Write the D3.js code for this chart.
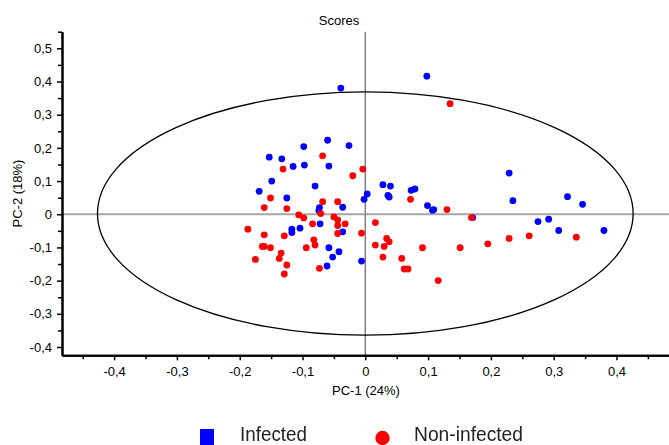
<!DOCTYPE html>
<html>
<head>
<meta charset="utf-8">
<script src="https://cdn.jsdelivr.net/npm/d3@7"></script>
<style>
  html, body { margin: 0; padding: 0; background: #fff; }
  svg { display: block; font-family: "Liberation Sans", Arial, sans-serif; }
</style>
</head>
<body>
<svg id="chart" width="669" height="445"></svg>
<script>
// PCA scores: PC-1 (x) and PC-2 (y) per sample
const infectedPC1 = [-0.039, 0.098, -0.060, -0.098, -0.026, -0.153, -0.133, -0.115, -0.097, -0.058,
  -0.149, -0.080, -0.169, -0.125, 0.028, 0.040, 0.229, 0.073, 0.079, 0.036,
  0.038, 0.003, -0.002, 0.322, 0.235, 0.346, 0.099, 0.107, 0.109, 0.171,
  0.275, 0.292, 0.308, 0.380, -0.073, -0.074, -0.036, -0.072, -0.117, -0.117,
  -0.104, -0.036, -0.058, -0.042, -0.052, -0.061, -0.006];
const infectedPC2 = [0.380, 0.416, 0.223, 0.204, 0.207, 0.172, 0.167, 0.144, 0.148, 0.145,
  0.100, 0.085, 0.069, 0.049, 0.089, 0.085, 0.124, 0.072, 0.076, 0.057,
  0.052, 0.061, 0.045, 0.053, 0.041, 0.030, 0.026, 0.012, 0.014, -0.010,
  -0.022, -0.015, -0.049, -0.049, 0.020, 0.011, 0.021, -0.029, -0.045, -0.055,
  -0.042, -0.053, -0.101, -0.113, -0.129, -0.156, -0.141];

const nonInfectedPC1 = [0.135, -0.068, -0.131, -0.004, -0.020, -0.151, -0.068, -0.044, 0.072, -0.161,
  -0.125, -0.106, -0.098, -0.071, -0.050, -0.044, 0.130, 0.169, -0.187, -0.161,
  -0.129, -0.084, -0.044, -0.032, -0.044, -0.006, 0.016, -0.164, -0.161, -0.151,
  -0.094, -0.134, -0.137, -0.175, -0.125, -0.129, -0.082, -0.080, -0.073, 0.016,
  0.030, 0.034, 0.038, 0.028, 0.058, 0.062, 0.068, 0.116, 0.091, 0.151,
  0.195, 0.229, 0.261, 0.336];
const nonInfectedPC2 = [0.333, 0.176, 0.136, 0.136, 0.116, 0.049, 0.038, 0.038, 0.045, 0.020,
  0.017, -0.002, -0.011, 0.002, -0.008, -0.017, 0.014, -0.010, -0.045, -0.062,
  -0.065, -0.029, -0.034, -0.029, -0.058, -0.057, -0.025, -0.097, -0.097, -0.101,
  -0.101, -0.117, -0.133, -0.136, -0.153, -0.180, -0.077, -0.093, -0.163, -0.093,
  -0.097, -0.073, -0.083, -0.129, -0.133, -0.165, -0.165, -0.200, -0.101, -0.101,
  -0.089, -0.073, -0.065, -0.069];

const xMajorTicks = [-0.4, -0.3, -0.2, -0.1, 0, 0.1, 0.2, 0.3, 0.4];
const xMinorTicks = [-0.45, -0.35, -0.25, -0.15, -0.05, 0.05, 0.15, 0.25, 0.35, 0.45];
const yMajorTicks = [-0.4, -0.3, -0.2, -0.1, 0, 0.1, 0.2, 0.3, 0.4, 0.5];
const yMinorTicks = [-0.35, -0.25, -0.15, -0.05, 0.05, 0.15, 0.25, 0.35, 0.45, 0.55];

// Confidence ellipse (centre and semi-axes in score units)
const ellipseCenter = [0, 0.002];
const ellipseRadii = [0.4265, 0.3665];

const seriesNames = ["Infected", "Non-infected"];
const seriesColors = ["#0000ff", "#ff0000"];

const svg = d3.select("#chart");
const plotLeft = 62, plotRight = 669, plotTop = 31.7, plotBottom = 355.3;

const x = d3.scaleLinear().domain([-0.483, 0.4836]).range([plotLeft, plotRight]);
const y = d3.scaleLinear().domain([-0.425, 0.55]).range([plotBottom, plotTop]);

const fmt = v => (Math.abs(v) < 1e-9 ? "0" : d3.format(".1f")(v).replace(".", ",").replace("−", "-"));

// zero reference lines
svg.append("line")
  .attr("x1", plotLeft).attr("x2", plotRight)
  .attr("y1", y(0)).attr("y2", y(0))
  .attr("stroke", "#a6a6a6").attr("stroke-width", 2);
svg.append("line")
  .attr("x1", x(0)).attr("x2", x(0))
  .attr("y1", plotTop).attr("y2", plotBottom)
  .attr("stroke", "#7f7f7f").attr("stroke-width", 1.5);

// ellipse
svg.append("ellipse")
  .attr("cx", x(ellipseCenter[0])).attr("cy", y(ellipseCenter[1]))
  .attr("rx", x(ellipseRadii[0]) - x(0))
  .attr("ry", y(0) - y(ellipseRadii[1]))
  .attr("fill", "none").attr("stroke", "#000").attr("stroke-width", 1.3);

// points
const infected = infectedPC1.map((v, i) => ({ x: v, y: infectedPC2[i] }));
const nonInfected = nonInfectedPC1.map((v, i) => ({ x: v, y: nonInfectedPC2[i] }));

svg.append("g").selectAll("circle").data(infected).join("circle")
  .attr("cx", d => x(d.x)).attr("cy", d => y(d.y)).attr("r", 3.4)
  .attr("fill", seriesColors[0]);
svg.append("g").selectAll("circle").data(nonInfected).join("circle")
  .attr("cx", d => x(d.x)).attr("cy", d => y(d.y)).attr("r", 3.4)
  .attr("fill", seriesColors[1]);

// axes
function styleAxis(g) {
  g.select(".domain").attr("stroke", "#000").attr("stroke-width", 2);
  g.selectAll(".tick line").attr("stroke", "#000").attr("stroke-width", 1.5);
  g.selectAll(".tick text").attr("fill", "#000").style("font-size", "13px")
    .style("font-family", "'Liberation Sans', Arial, sans-serif");
}

const xAxisG = svg.append("g").attr("transform", `translate(0,${plotBottom})`)
  .call(d3.axisBottom(x).tickValues(xMajorTicks).tickFormat(fmt).tickSize(5).tickPadding(6).tickSizeOuter(0));
styleAxis(xAxisG);
const xMinorG = svg.append("g").attr("transform", `translate(0,${plotBottom})`)
  .call(d3.axisBottom(x).tickValues(xMinorTicks).tickFormat("").tickSize(4).tickSizeOuter(0));
styleAxis(xMinorG);

const yAxisG = svg.append("g").attr("transform", `translate(${plotLeft},0)`)
  .call(d3.axisLeft(y).tickValues(yMajorTicks).tickFormat(fmt).tickSize(5).tickPadding(5).tickSizeOuter(0));
styleAxis(yAxisG);
const yMinorG = svg.append("g").attr("transform", `translate(${plotLeft},0)`)
  .call(d3.axisLeft(y).tickValues(yMinorTicks).tickFormat("").tickSize(4).tickSizeOuter(0));
styleAxis(yMinorG);

// titles
svg.append("text").attr("x", 339).attr("y", 25).attr("text-anchor", "middle")
  .style("font-size", "13px").text("Scores");
svg.append("text").attr("x", 366).attr("y", 395).attr("text-anchor", "middle")
  .style("font-size", "13px").text("PC-1 (24%)");
svg.append("text").attr("transform", `translate(22,${(plotTop + plotBottom) / 2}) rotate(-90)`)
  .attr("text-anchor", "middle").style("font-size", "13px").text("PC-2 (18%)");

// legend
const defs = svg.append("defs");
defs.append("filter").attr("id", "soft").append("feGaussianBlur").attr("stdDeviation", 0.6);
const legend = svg.append("g").attr("filter", "url(#soft)");
legend.append("rect").attr("x", 200).attr("y", 429).attr("width", 14).attr("height", 16)
  .attr("fill", seriesColors[0]);
legend.append("text").attr("x", 240).attr("y", 441)
  .attr("textLength", 67).attr("lengthAdjust", "spacingAndGlyphs")
  .style("font-size", "20px").attr("fill", "#222").text(seriesNames[0]);
legend.append("circle").attr("cx", 382.5).attr("cy", 438).attr("r", 7.2)
  .attr("fill", seriesColors[1]);
legend.append("text").attr("x", 414).attr("y", 441)
  .attr("textLength", 109).attr("lengthAdjust", "spacingAndGlyphs")
  .style("font-size", "20px").attr("fill", "#222").text(seriesNames[1]);
</script>
</body>
</html>
